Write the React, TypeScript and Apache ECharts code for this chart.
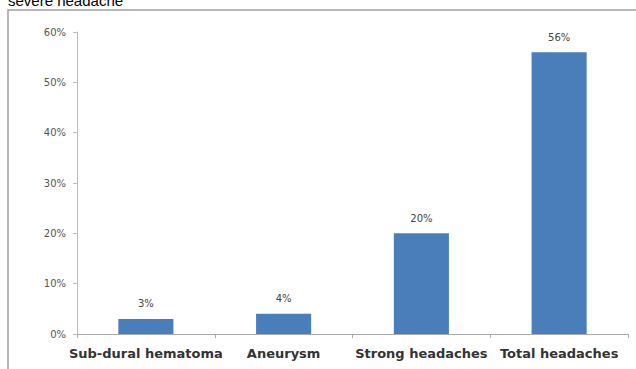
import React, { useEffect, useRef } from "react";
import * as echarts from "echarts";

const categories = ["Sub-dural hematoma", "Aneurysm", "Strong headaches", "Total headaches"];
const values = [3, 4, 20, 56];
const titleText = "severe headache";

export default function App() {
  const ref = useRef<HTMLDivElement>(null);
  useEffect(() => {
    if (!ref.current) return;
    const chart = echarts.init(ref.current, null, { renderer: "svg" });
    chart.setOption({
      animation: false,
      backgroundColor: "#ffffff",
      graphic: [
        {
          type: "rect",
          shape: { x: 8, y: 10, width: 640, height: 370 },
          style: { fill: "none", stroke: "#a0a0a0", lineWidth: 1.5 },
          z: -1,
        },
        {
          type: "text",
          x: 8,
          y: 8,
          style: {
            text: titleText,
            font: "15px 'Liberation Sans', Arial, sans-serif",
            fill: "#000",
            verticalAlign: "bottom",
          },
        },
      ],
      grid: { left: 77, right: 8, top: 32, bottom: 35 },
      xAxis: {
        type: "category",
        data: categories,
        axisLine: { lineStyle: { color: "#aaaaaa" } },
        axisTick: { show: true, length: 4, lineStyle: { color: "#aaaaaa" } },
        axisLabel: {
          color: "#333",
          fontWeight: "bold",
          fontSize: 13,
          fontFamily: "'DejaVu Sans', sans-serif",
          margin: 13,
          interval: 0,
        },
      },
      yAxis: {
        type: "value",
        min: 0,
        max: 60,
        interval: 10,
        splitLine: { show: false },
        axisLine: { show: true, lineStyle: { color: "#bbbbbb" } },
        axisTick: { show: true, length: 4, lineStyle: { color: "#bbbbbb" } },
        axisLabel: {
          formatter: "{value}%",
          color: "#555",
          fontSize: 10,
          fontFamily: "'DejaVu Sans', sans-serif",
          margin: 11,
        },
      },
      series: [
        {
          type: "bar",
          data: values,
          barWidth: "40%",
          itemStyle: { color: "#4a7ebb" },
          label: {
            show: true,
            position: "top",
            distance: 10,
            formatter: "{c}%",
            color: "#444",
            fontSize: 10,
            fontFamily: "'DejaVu Sans', sans-serif",
          },
        },
      ],
    });
    return () => chart.dispose();
  }, []);
  return (
    <div
      ref={ref}
      style={{ position: "fixed", left: 0, top: 0, width: 636, height: 369 }}
    />
  );
}
